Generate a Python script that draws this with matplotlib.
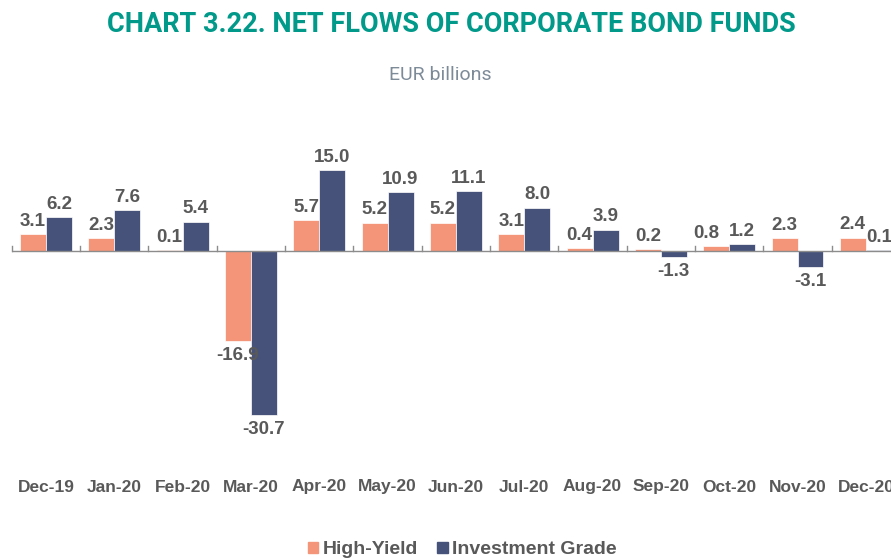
import matplotlib
matplotlib.use("Agg")
import matplotlib.pyplot as plt
from matplotlib.patches import Rectangle
import numpy as np

categories = ["Dec-19", "Jan-20", "Feb-20", "Mar-20", "Apr-20", "May-20", "Jun-20",
              "Jul-20", "Aug-20", "Sep-20", "Oct-20", "Nov-20", "Dec-20"]
high_yield = [3.1, 2.3, 0.1, -16.9, 5.7, 5.2, 5.2, 3.1, 0.4, 0.2, 0.8, 2.3, 2.4]
investment_grade = [6.2, 7.6, 5.4, -30.7, 15.0, 10.9, 11.1, 8.0, 3.9, -1.3, 1.2, -3.1, 0.1]

HY_COLOR = "#F4957A"
IG_COLOR = "#46527A"
TXT = "#595959"

W, H = 891, 559
fig = plt.figure(figsize=(W / 100, H / 100), dpi=100)

# axes placement in pixels
left_px, right_px = 11.8, 900.0
top_px, bottom_px = 150.0, 440.0
ax = fig.add_axes([left_px / W, (H - bottom_px) / H,
                   (right_px - left_px) / W, (bottom_px - top_px) / H])
scale = 5.37
zero_px = 250.5
ax.set_ylim(-(bottom_px - zero_px) / scale, (zero_px - top_px) / scale)
ax.set_xlim(-0.5, len(categories) - 0.5)

x = np.arange(len(categories))
bw = 0.38
ax.bar(x - bw / 2, high_yield, bw, color=HY_COLOR, edgecolor="white", linewidth=0.5, zorder=2)
ax.bar(x + bw / 2, investment_grade, bw, color=IG_COLOR, edgecolor="white", linewidth=0.5, zorder=2)

for k, (xs, vals) in enumerate(((x - bw / 2, high_yield), (x + bw / 2, investment_grade))):
    for c, xi, v in zip(categories, xs, vals):
        dx = -7 if (k == 0 and c == "Oct-20") else 0
        ax.annotate(f"{v:.1f}", (xi, v), xytext=(dx, 3 if v >= 0 else -4),
                    textcoords="offset points", ha="center",
                    va="bottom" if v >= 0 else "top", fontsize=13.5,
                    fontweight="bold", color=TXT, family="Liberation Sans")

for s in ["top", "right", "left", "bottom"]:
    ax.spines[s].set_visible(False)
ax.axhline(0, color="#8C8C8C", linewidth=1.0, zorder=3)
ax.set_yticks([])
ax.set_xticks([])
# category boundary ticks on the zero line
for b in np.arange(-0.5, len(categories) + 0.5, 1.0):
    ax.plot([b, b], [0, 5 / scale], color="#8C8C8C", linewidth=1.0, zorder=3, clip_on=False)

# category labels
for xi, c in zip(x, categories):
    ax.text(xi, -(487 - zero_px) / scale, c, ha="center", va="center", fontsize=12.5,
            fontweight="bold", color=TXT, family="Liberation Sans", clip_on=False)

fig.text(451 / W, 1 - 24 / H, "CHART 3.22. NET FLOWS OF CORPORATE BOND FUNDS",
         ha="center", va="center", fontsize=19.5, fontweight="bold", color="#00998A",
         family="Roboto")
fig.text(440 / W, 1 - 75 / H, "EUR billions", ha="center", va="center", fontsize=14,
         color="#7D8B99", family="Roboto")

# legend
handles = [Rectangle((0, 0), 1, 1, color=HY_COLOR), Rectangle((0, 0), 1, 1, color=IG_COLOR)]
leg = fig.legend(handles, ["High-Yield", "Investment Grade"], loc="center",
                 bbox_to_anchor=(462 / W, 1 - 550 / H), ncol=2, frameon=False,
                 handlelength=0.55, handleheight=0.55, handletextpad=0.2, columnspacing=1.0,
                 prop={"family": "Liberation Sans", "weight": "bold", "size": 14})
for t in leg.get_texts():
    t.set_color(TXT)

fig.savefig("out.png", dpi=100)
